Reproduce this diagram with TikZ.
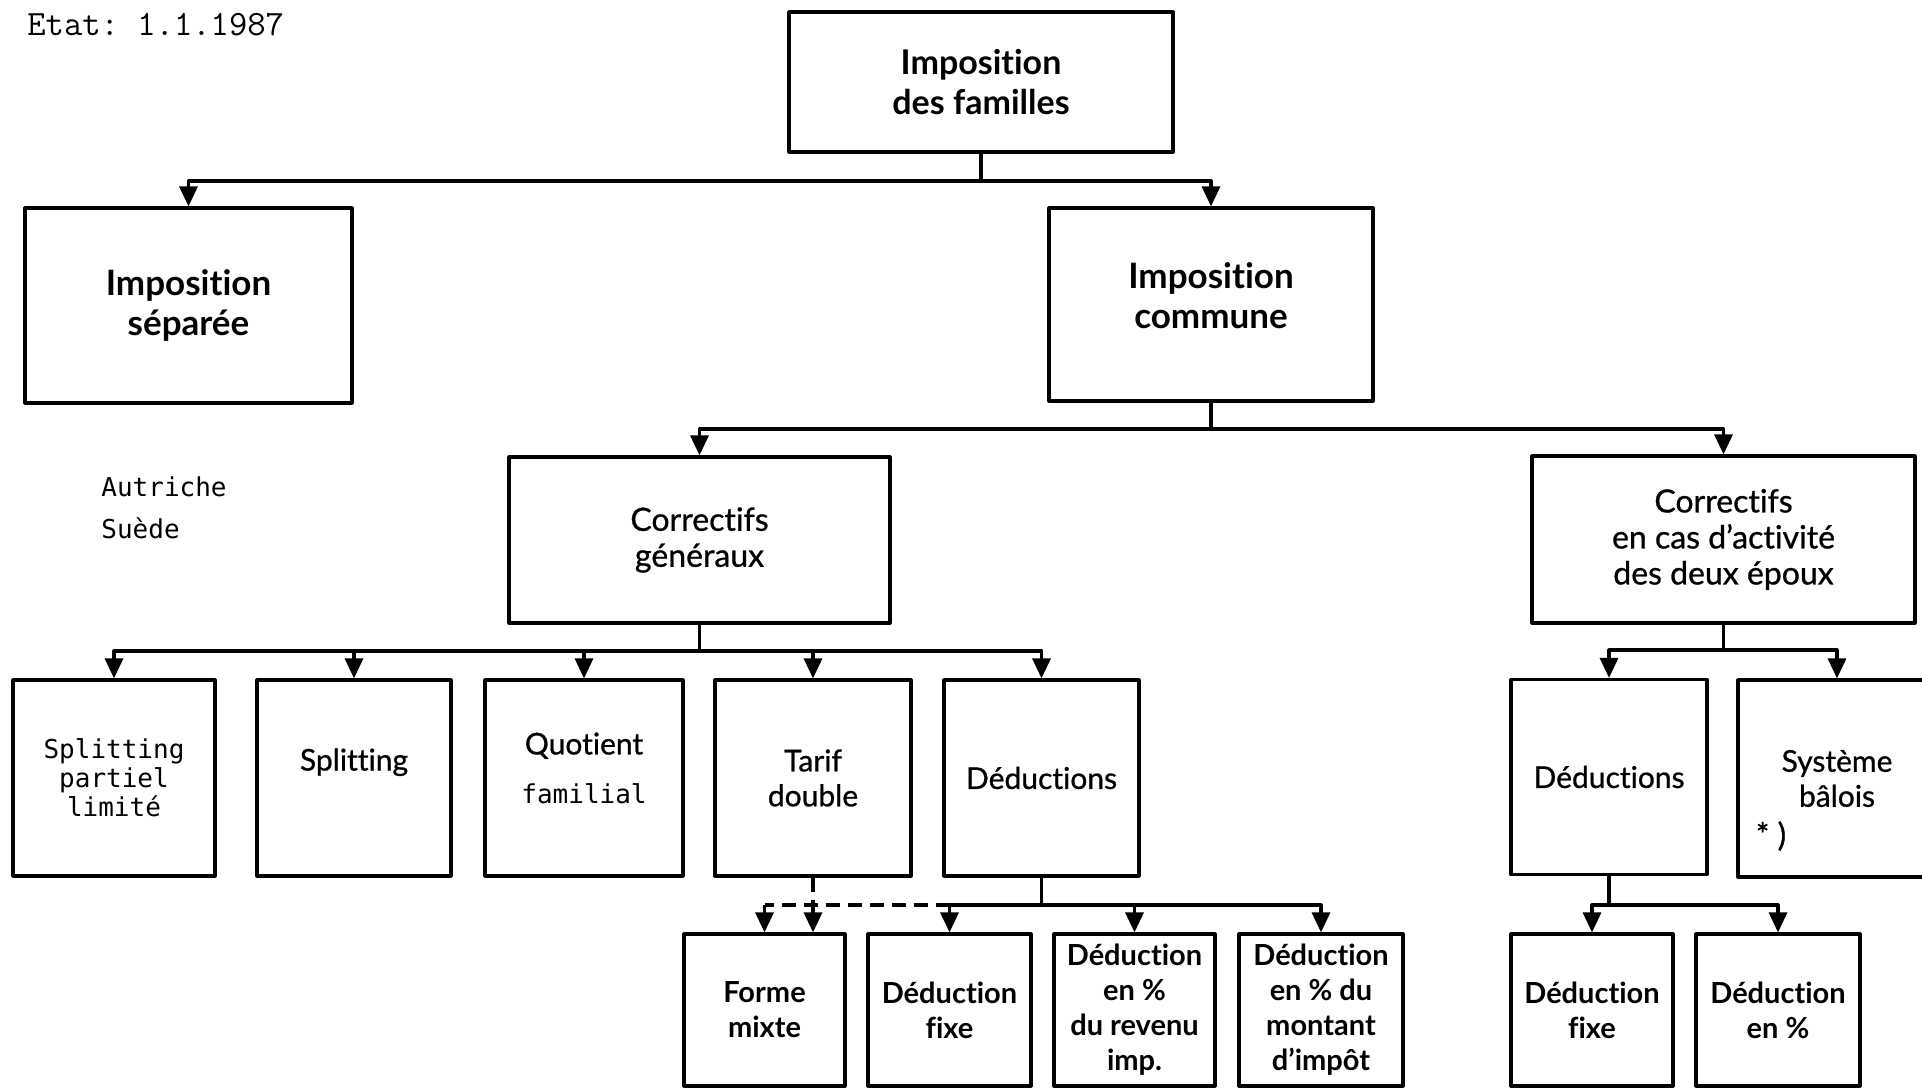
\documentclass[tikz,border=0pt]{standalone}
\usepackage{fontspec}
\setmainfont{Lato}[Ligatures=NoCommon]
\newfontfamily\moyen{Lato}[Ligatures=NoCommon, RawFeature={embolden=0.8}]
\newfontfamily\machine{DejaVu Sans Mono}
\usetikzlibrary{arrows.meta}
\tikzset{
  boite/.style={draw, line width=1.6pt, inner sep=2pt, align=center, font=\moyen\fontsize{15}{17.5}\selectfont},
  boitegras/.style={boite, font=\bfseries\fontsize{14.5}{17.5}\selectfont},
  lien/.style={line width=1.6pt},
  pointille/.style={line width=1.6pt, dash pattern=on 7pt off 4pt},
}
\begin{document}
\begin{tikzpicture}[x=0.5pt, y=-0.5pt, >={Triangle[length=10pt,width=9pt]}, line join=round]
\useasboundingbox (0,0) rectangle (1922,1089);
\clip (0,0) rectangle (1922,1089);
\fill[white] (0,0) rectangle (1922,1089);
% niveaux du haut
\node[boite, minimum width=192pt, minimum height=70pt, font=\bfseries\fontsize{17}{20}\selectfont] (fam) at (981,82) {Imposition\\des familles};
\node[boite, minimum width=163.5pt, minimum height=97.5pt, font=\bfseries\fontsize{17.5}{20}\selectfont] (sep) at (188.5,305.5) {Imposition\\séparée};
\node[boite, minimum width=162pt, minimum height=96.5pt, font=\bfseries\fontsize{17.5}{20}\selectfont] (com) at (1211,304.5) {Imposition\\commune\\[-11pt]~};
\node[boite, minimum width=190.5pt, minimum height=83pt, font=\moyen\fontsize{16}{18}\selectfont] (corg) at (699.5,540) {Correctifs\\généraux};
\node[boite, minimum width=191.5pt, minimum height=83.5pt, font=\moyen\fontsize{16}{18}\selectfont] (cord) at (1723.5,539.5) {Correctifs\\en cas d’activité\\des deux époux};
% correctifs
\node[boite, minimum width=101pt, minimum height=98pt, font=\machine\fontsize{13}{14.5}\selectfont] (spl) at (114,778) {Splitting\\partiel\\limité};
\node[boite, minimum width=97pt, minimum height=98pt] (spli) at (354,778) {Splitting\\[1pt]~};
\node[boite, minimum width=99pt, minimum height=98pt] (quot) at (584,778) {Quotient\\[7pt]{\machine\fontsize{13}{14.5}\selectfont familial}\\[-7.5pt]~};
\node[boite, minimum width=98pt, minimum height=98pt] (tarif) at (813,778) {Tarif\\double};
\node[boite, minimum width=97.5pt, minimum height=98pt] (ded) at (1041.5,778) {Déductions};
\node[boite, minimum width=98pt, minimum height=97.5pt] (rded) at (1609,777) {Déductions};
\node[boite, minimum width=99pt, minimum height=98.5pt] (sba) at (1837,778.5) {Système\\bâlois};
\node[font=\moyen\fontsize{16}{18}\selectfont, inner sep=0pt] (renvoi) at (1771,836) {*\ )};
% deductions
\node[boitegras, minimum width=80.5pt, minimum height=76pt] (fmix) at (764.5,1010) {Forme\\mixte};
\node[boitegras, minimum width=81.5pt, minimum height=76pt] (dfix) at (949.5,1010) {Déduction\\fixe};
\node[boitegras, minimum width=80.5pt, minimum height=76pt] (drev) at (1134.5,1010) {Déduction\\en \%\\du revenu\\imp.};
\node[boitegras, minimum width=82pt, minimum height=76pt] (dmon) at (1321,1010) {Déduction\\en \% du\\montant\\d’impôt};
\node[boitegras, minimum width=81pt, minimum height=76pt] (rfix) at (1592,1010) {Déduction\\fixe};
\node[boitegras, minimum width=82pt, minimum height=76pt] (rpct) at (1778,1010) {Déduction\\en \%};
% textes libres
\node[font=\ttfamily\frenchspacing\fontsize{17.8}{20}\selectfont, anchor=west, inner sep=0pt] (etat) at (27,25) {Etat: 1.1.1987};
\node[font=\machine\fontsize{13}{21}\selectfont, align=left, anchor=west, inner sep=0pt] (pays) at (101,508) {Autriche\\Suède};
% liaisons
\coordinate (b1) at (0,181);
\coordinate (b2) at (0,429);
\coordinate (b3) at (0,651);
\coordinate (b4) at (0,650);
\coordinate (b5) at (0,905);
\draw[lien,->] (fam.south) -- (fam.south |- b1) -| (sep.north);
\draw[lien,->] (fam.south |- b1) -| (com.north);
\draw[lien,->] (com.south) -- (com.south |- b2) -| (corg.north);
\draw[lien,->] (com.south |- b2) -| (cord.north);
\draw[lien] (corg.south) -- (corg.south |- b3);
\foreach \n in {spl,spli,quot,tarif,ded}
  \draw[lien,->] (corg.south |- b3) -| (\n.north);
\draw[lien] (cord.south) -- (cord.south |- b4);
\foreach \n in {rded,sba}
  \draw[lien,->] (cord.south |- b4) -| (\n.north);
\draw[lien] (ded.south) -- (ded.south |- b5);
\foreach \n in {dfix,drev,dmon}
  \draw[lien,->] (ded.south |- b5) -| (\n.north);
\draw[pointille] (tarif.south) -- (tarif.south |- b5);
\draw[pointille] (dfix.north |- b5) -- (fmix.north |- b5);
\draw[lien,->] (fmix.north |- b5) -- (fmix.north);
\draw[lien,->] (tarif.south |- b5) -- (tarif.south |- fmix.north);
\draw[lien] (rded.south) -- (rded.south |- b5);
\foreach \n in {rfix,rpct}
  \draw[lien,->] (rded.south |- b5) -| (\n.north);
\end{tikzpicture}
\end{document}
